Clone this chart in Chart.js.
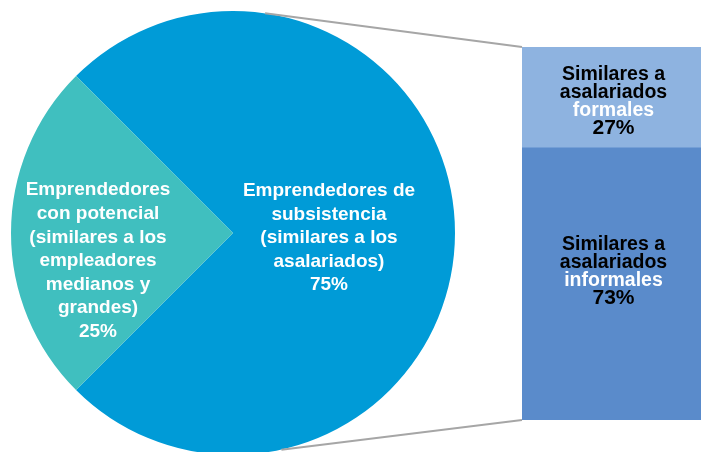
<!DOCTYPE html>
<html>
<head>
<meta charset="utf-8">
<script src="https://cdn.jsdelivr.net/npm/chart.js@4.4.1/dist/chart.umd.min.js"></script>
<style>
  html, body { margin: 0; padding: 0; background: #fff; }
  #wrap { position: relative; width: 701px; height: 452px; overflow: hidden; }
  #pieChart, #barChart { position: absolute; left: 0; top: 0; }
</style>
</head>
<body>
<div id="wrap">
  <canvas id="pieChart" width="466" height="466"></canvas>
  <canvas id="barChart" width="701" height="452"></canvas>
</div>
<script>
// pie: subsistence vs. potential entrepreneurs
const pieCategories = ['Emprendedores de subsistencia', 'Emprendedores con potencial'];
const pieValues = [75, 25];
const pieLabelLines = [
  ['Emprendedores de', 'subsistencia', '(similares a los', 'asalariados)'],
  ['Emprendedores', 'con potencial', '(similares a los', 'empleadores', 'medianos y', 'grandes)']
];
const pieColors = ['#009bd7', '#40bfbf'];

// bar: breakdown of the subsistence slice (bottom first, stacked)
const barCategories = ['Similares a asalariados informales', 'Similares a asalariados formales'];
const barValues = [73, 27];
const barLabelLines = [
  ['Similares a', 'asalariados', 'informales'],
  ['Similares a', 'asalariados', 'formales']
];
const barColors = ['#5a8bcb', '#8eb3e0'];

const FONT = '"Liberation Sans", Arial, sans-serif';

// pie labels, placed relative to the pie centre
const pieLabelPlugin = {
  id: 'pieLabels',
  afterDatasetsDraw(chart) {
    const ctx = chart.ctx;
    const arcs = chart.getDatasetMeta(0).data;
    const offsets = [{ dx: 96, dy: 5 }, { dx: -135, dy: 28 }];
    const lineH = 23.6;
    ctx.save();
    ctx.fillStyle = '#ffffff';
    ctx.font = 'bold 19px ' + FONT;
    ctx.textAlign = 'center';
    ctx.textBaseline = 'middle';
    arcs.forEach((arc, i) => {
      const lines = pieLabelLines[i].concat([pieValues[i] + '%']);
      const cx = arc.x + offsets[i].dx;
      const cy = arc.y + offsets[i].dy;
      const y0 = cy - (lines.length - 1) * lineH / 2;
      lines.forEach((t, j) => ctx.fillText(t, cx, y0 + j * lineH));
    });
    ctx.restore();
  }
};

const pieChart = new Chart(document.getElementById('pieChart'), {
  type: 'pie',
  data: {
    labels: pieCategories,
    datasets: [{
      data: pieValues,
      backgroundColor: pieColors,
      borderWidth: 0
    }]
  },
  options: {
    responsive: false,
    animation: false,
    rotation: -45,
    layout: { padding: 11 },
    plugins: { legend: { display: false }, tooltip: { enabled: false } }
  },
  plugins: [pieLabelPlugin]
});

// connector lines + bar labels
const barDecorPlugin = {
  id: 'barDecor',
  afterDatasetsDraw(chart) {
    const ctx = chart.ctx;
    const low = chart.getDatasetMeta(0).data[0];
    const high = chart.getDatasetMeta(1).data[0];
    const left = low.x - low.width / 2;

    // connectors from the pie edge
    const arc = pieChart.getDatasetMeta(0).data[0];
    const r = arc.outerRadius;
    const aTop = 8.3 * Math.PI / 180;
    const aBot = 12.6 * Math.PI / 180;
    ctx.save();
    ctx.strokeStyle = '#a6a6a6';
    ctx.lineWidth = 2;
    ctx.beginPath();
    ctx.moveTo(arc.x + r * Math.sin(aTop), arc.y - r * Math.cos(aTop));
    ctx.lineTo(left, high.y);
    ctx.moveTo(arc.x + r * Math.sin(aBot), arc.y + r * Math.cos(aBot));
    ctx.lineTo(left, low.base);
    ctx.stroke();
    ctx.restore();

    // labels
    const firstOffsets = [-39, -22.5];
    const lineH = 18;
    ctx.save();
    ctx.textAlign = 'center';
    ctx.textBaseline = 'middle';
    [low, high].forEach((bar, i) => {
      const cy = (bar.y + bar.base) / 2 + firstOffsets[i];
      const cx = bar.x + 2;
      barLabelLines[i].forEach((t, j) => {
        ctx.font = 'bold 19.5px ' + FONT;
        ctx.fillStyle = j === 2 ? '#ffffff' : '#000000';
        ctx.fillText(t, cx, cy + j * lineH);
      });
      ctx.font = 'bold 21px ' + FONT;
      ctx.fillStyle = '#000000';
      ctx.fillText(barValues[i] + '%', cx, cy + 3 * lineH - 1);
    });
    ctx.restore();
  }
};

new Chart(document.getElementById('barChart'), {
  type: 'bar',
  data: {
    labels: [''],
    datasets: barValues.map((v, i) => ({
      label: barCategories[i],
      data: [v],
      backgroundColor: barColors[i],
      borderWidth: 0,
      barPercentage: 1,
      categoryPercentage: 1
    }))
  },
  options: {
    responsive: false,
    animation: false,
    layout: { padding: { left: 522, top: 47, right: 0, bottom: 32 } },
    scales: {
      x: { stacked: true, display: false },
      y: { stacked: true, display: false, min: 0, max: 100 }
    },
    plugins: { legend: { display: false }, tooltip: { enabled: false } }
  },
  plugins: [barDecorPlugin]
});
</script>
</body>
</html>
